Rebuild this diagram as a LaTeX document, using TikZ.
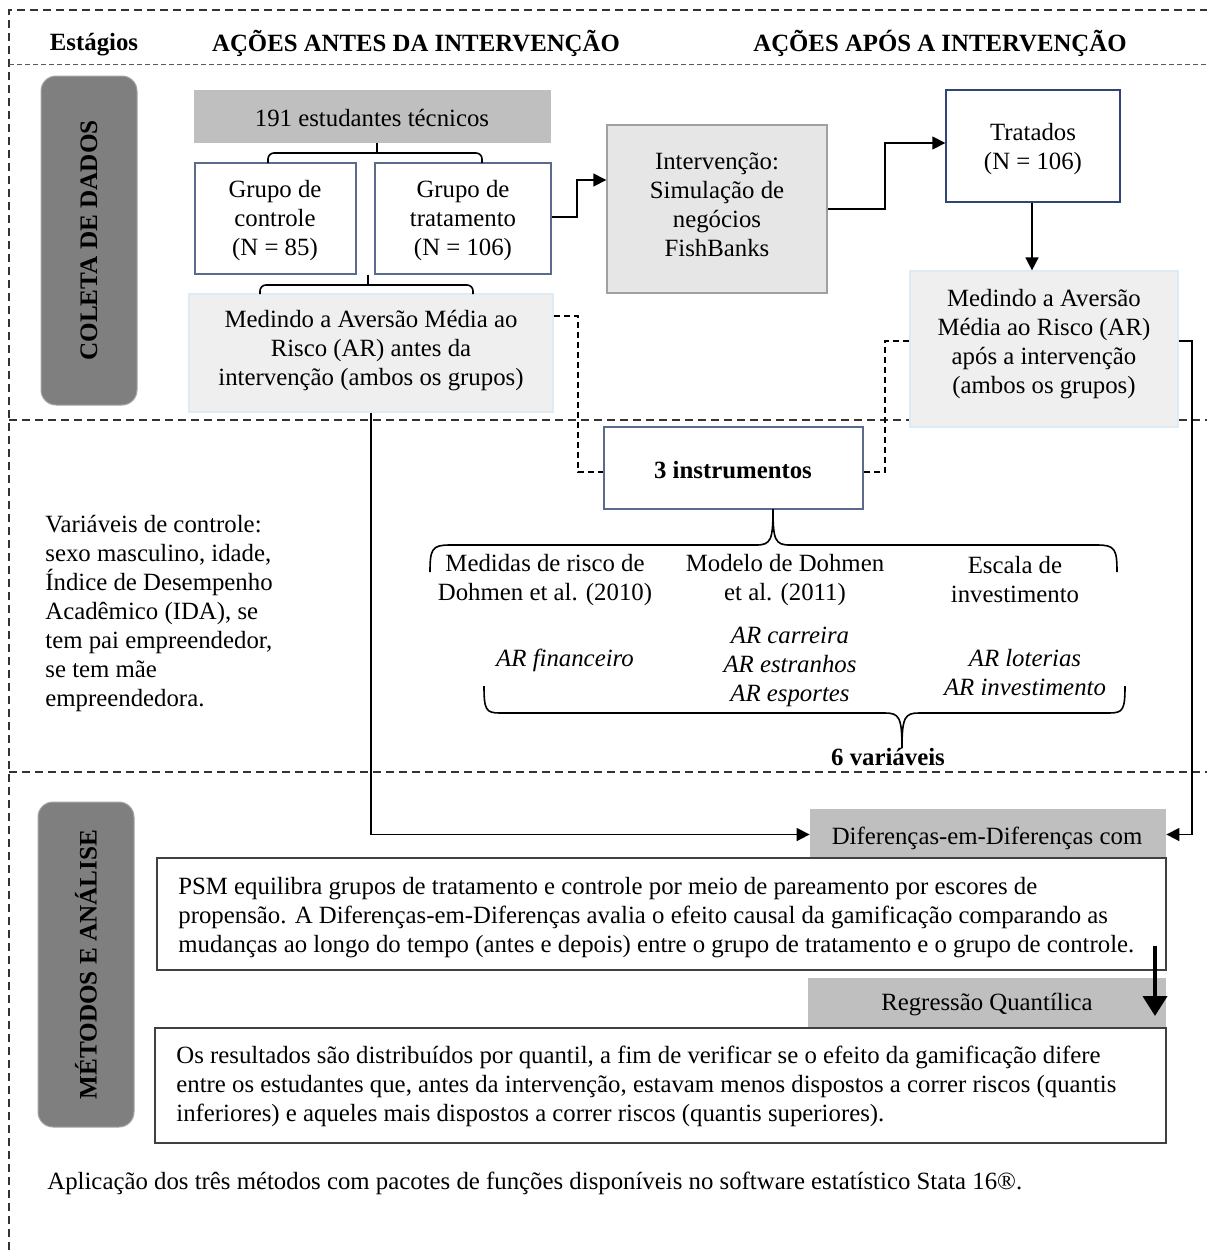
\documentclass[tikz,border=0pt]{standalone}
\usepackage{fontspec}
\setmainfont{Liberation Serif}
\usetikzlibrary{fit,arrows.meta}
\definecolor{stagegray}{HTML}{7F7F7F}
\definecolor{stagedraw}{HTML}{A6A6A6}
\definecolor{headgray}{HTML}{BFBFBF}
\definecolor{intfill}{HTML}{E6E6E6}
\definecolor{intdraw}{HTML}{A0A0A0}
\definecolor{medfill}{HTML}{EFEFEF}
\definecolor{meddraw}{HTML}{DDEBF7}
\definecolor{grpdraw}{HTML}{5B6B8E}
\definecolor{tratdraw}{HTML}{2F4577}
\definecolor{boxdraw}{HTML}{404040}
\begin{document}
\begin{tikzpicture}[x=0.5pt,y=-0.5pt,
  every node/.style={font=\fontsize{12.4}{14.5}\selectfont, inner sep=0pt},
  bx/.style={inner sep=0pt, align=center},
  stagebox/.style={bx, fill=stagegray, draw=stagedraw, line width=0.5pt, rounded corners=7.5pt},
  stagetext/.style={rotate=90, font=\fontsize{12.6}{14}\selectfont\bfseries},
  graybar/.style={bx, fill=headgray},
  grpbox/.style={bx, draw=grpdraw, line width=0.6pt},
  medbox/.style={bx, fill=medfill, draw=meddraw, line width=0.6pt},
  txtbox/.style={bx, draw=boxdraw, fill=white, line width=0.7pt},
  hdr/.style={font=\fontsize{12.4}{14.5}\selectfont\bfseries},
  frame/.style={line width=0.6pt, dash pattern=on 4pt off 2.5pt, draw=black!80},
  thinframe/.style={line width=0.5pt, dash pattern=on 2.5pt off 1.5pt, draw=black!65},
  conn/.style={line width=0.8pt},
  arr/.style={line width=0.8pt, -{Triangle[length=6.5pt,width=6.5pt]}},
  dconn/.style={line width=0.7pt, dash pattern=on 3pt off 2pt},
  bigarr/.style={line width=2pt, -{Triangle[length=10pt,width=12pt]}}
]
\useasboundingbox (0,0) rectangle (1207,1250);

% frame
\draw[frame] (9,1250) -- (9,10) -- (1207,10);
\draw[thinframe] (9,64) -- (1207,64);
\draw[frame] (9,420) -- (1207,420);
\draw[frame] (9,772) -- (1207,772);

% headers
\node[hdr] (hS) at (94,45) {Estágios};
\node[hdr] (hA) at (416,43) {AÇÕES ANTES DA INTERVENÇÃO};
\node[hdr] (hB) at (940,43) {AÇÕES APÓS A INTERVENÇÃO};

% stages
\node[stagebox, fit={(41,76)(137,405)}] (st1) {};
\node[stagetext] (st1t) at (st1.center) {COLETA DE DADOS};
\node[stagebox, fit={(38,802)(134,1127)}] (st2) {};
\node[stagetext] (st2t) at (st2.center) {MÉTODOS E ANÁLISE};

% top-left block
\node[graybar, fit={(194,90)(551,143)}] (s191) {};
\node (s191t) at (372,118) {191 estudantes técnicos};
\node[grpbox, fit={(195,163)(356,274)}] (gc) {};
\node[align=center] (gct) at (275,221) {Grupo de\\controle\\(N = 85)};
\node[grpbox, fit={(375,163)(551,274)}] (gt) {};
\node[align=center] (gtt) at (463,221) {Grupo de\\tratamento\\(N = 106)};
\node[medbox, fit={(189,294)(553,412)}] (medA) {};
\node[align=center] (medAt) at (371,351) {Medindo a Aversão Média ao\\Risco (AR) antes da\\intervenção (ambos os grupos)};

% brackets
\draw[conn, rounded corners=3pt] (268,163) -- (268,153) -- (482,153) -- (482,163);
\draw[conn] (s191.south -| 377,0) -- (377,153);
\draw[conn, rounded corners=3pt] (260,294) -- (260,285) -- (473,285) -- (473,294);
\draw[conn] (gc.south -| 368,0) -- (368,285);

% intervention
\node[bx, fill=intfill, draw=intdraw, line width=0.7pt, fit={(607,125)(827,293)}] (int) {};
\node[align=center] (intt) at (717,205) {Intervenção:\\Simulação de\\negócios\\FishBanks};
\node[bx, draw=tratdraw, line width=0.7pt, fit={(946,90)(1120,202)}] (trat) {};
\node[align=center] (tratt) at (1033,149) {Tratados\\(N = 106)};
\node[medbox, fit={(910,271)(1178,427)}] (medB) {};
\node[align=center] (medBt) at (1044,344) {Medindo a Aversão\\Média ao Risco (AR)\\após a intervenção\\(ambos os grupos)};

\draw[arr] (gt.east |- 0,217) -- (577,217) |- (int.west |- 0,180);
\draw[arr] (int.east) -- (885,209) |- (trat.west |- 0,143);
\draw[arr] (trat.south -| 1032,0) -- (medB.north -| 1032,0);

% instruments
\node[grpbox, fit={(604,427)(863,509)}] (inst) {};
\node[hdr] (instt) at (733,470) {3 instrumentos};
\draw[dconn] (medA.east |- 0,316) -- (578,316) |- (inst.west |- 0,472);
\draw[dconn] (medB.west |- 0,341) -- (885,341) |- (inst.east |- 0,472);

% upper brace
\draw[conn] (430,572) .. controls (430,549) and (432,545) .. (450,545) -- (756,545) .. controls (771,545) and (773,540) .. (773,509);
\draw[conn] (773,509) .. controls (773,540) and (775,545) .. (790,545) -- (1097,545) .. controls (1115,545) and (1117,549) .. (1117,572);

\node[align=center] (c1) at (545,580) {Medidas de risco de\\Dohmen et al. (2010)};
\node[align=center] (c2) at (785,580) {Modelo de Dohmen\\et al. (2011)};
\node[align=center] (c3) at (1015,580) {Escala de\\investimento};
\node[align=center, font=\fontsize{12.4}{14.5}\selectfont\itshape] (v1) at (565,660) {AR financeiro};
\node[align=center, font=\fontsize{12.4}{14.5}\selectfont\itshape] (v2) at (790,667) {AR carreira\\AR estranhos\\AR esportes};
\node[align=center, font=\fontsize{12.4}{14.5}\selectfont\itshape] (v3) at (1025,673) {AR loterias\\AR investimento};

% lower brace
\draw[conn] (484,686) .. controls (484,710) and (486,713) .. (500,713) -- (885,713) .. controls (899,713) and (902,717) .. (902,748);
\draw[conn] (902,748) .. controls (902,717) and (905,713) .. (919,713) -- (1109,713) .. controls (1123,713) and (1125,710) .. (1125,686);
\node[hdr] (six) at (888,757) {6 variáveis};

% control variables
\node[anchor=west, align=left] (ctrl) at (45,614) {Variáveis de controle:\\sexo masculino, idade,\\Índice de Desempenho\\Acadêmico (IDA), se\\tem pai empreendedor,\\se tem mãe\\empreendedora.};

% methods
\node[graybar, fit={(810,809)(1166,860)}] (dif) {};
\node (dift) at (987,838) {Diferenças-em-Diferenças com};
\node[txtbox, fit={(157,858)(1166,970)}] (psm) {};
\node[anchor=west, align=left] (psmt) at (178,918) {PSM equilibra grupos de tratamento e controle por meio de pareamento por escores de\\propensão. A Diferenças-em-Diferenças avalia o efeito causal da gamificação comparando as\\mudanças ao longo do tempo (antes e depois) entre o grupo de tratamento e o grupo de controle.};
\node[graybar, fit={(808,978)(1166,1027)}] (reg) {};
\node (regt) at (987,1005) {Regressão Quantílica};
\node[txtbox, fit={(155,1028)(1166,1143)}] (res) {};
\node[anchor=west, align=left] (rest) at (176,1086) {Os resultados são distribuídos por quantil, a fim de verificar se o efeito da gamificação difere\\entre os estudantes que, antes da intervenção, estavam menos dispostos a correr riscos (quantis\\inferiores) e aqueles mais dispostos a correr riscos (quantis superiores).};

\draw[arr] (medA.south) |- (dif.west);
\draw[arr] (medB.east |- 0,341) -- (1192,341) |- (dif.east);
\coordinate (ta) at (1155,946);
\coordinate (tb) at (1155,1016);
\draw[bigarr] (ta) -- (tb);

\node[anchor=west] (foot) at (47,1183) {Aplicação dos três métodos com pacotes de funções disponíveis no software estatístico Stata 16®.};
\end{tikzpicture}
\end{document}
